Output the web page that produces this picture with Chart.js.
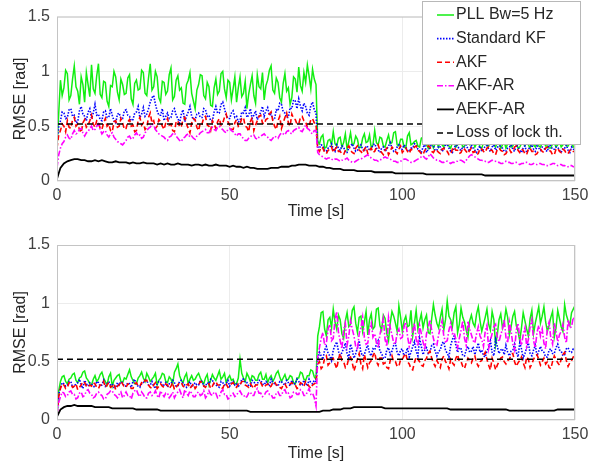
<!DOCTYPE html>
<html>
<head>
<meta charset="utf-8">
<script src="https://cdn.jsdelivr.net/npm/chart.js@4.4.1/dist/chart.umd.min.js"></script>
<style>
  html, body { margin: 0; padding: 0; background: #fff; }
  #wrap { position: relative; width: 600px; height: 466px; }
  #topChart { position: absolute; left: 0; top: 0; }
  #bottomChart { position: absolute; left: 0; top: 228px; }
</style>
</head>
<body>
<div id="wrap">
  <canvas id="topChart" width="600" height="228"></canvas>
  <canvas id="bottomChart" width="600" height="238"></canvas>
</div>
<script>
// RMSE, upper panel (noisy series every 0.5 s, AEKF-AR every 1 s)
const pllTop = [
  .30,.62,.92,.78,.85,1.01,.98,.74,.78,.93,1.05,.86,.82,.70,.95,.88,.72,.99,.88,.77,
  1.06,.84,.80,.96,1.07,.79,.76,.91,.90,.73,.68,.87,.86,1.00,.95,.81,.74,.93,.88,.79,
  .80,.94,.97,.75,.70,.89,.92,.83,.84,1.01,.99,.80,.78,.94,1.07,.83,.86,1.00,.95,.76,
  .72,.91,.90,.79,.82,.97,1.03,.74,.77,.92,.96,.83,.85,.71,.70,.88,.92,.99,.80,.73,
  .66,.83,.88,.97,.96,.78,.75,.90,.86,.69,.68,.85,.93,.79,.82,.98,1.00,.84,.76,.92,
  .90,.74,.84,.95,.72,.85,.95,.77,.80,.91,.66,.79,.88,.96,.78,.71,.97,.86,.84,.99,
  .74,.87,.92,1.01,1.05,.83,.80,.94,.90,.76,.72,.89,.98,.82,.85,.70,.76,.95,.93,.81,
  1.04,.87,.82,.99,.90,1.06,.96,.84,1.02,.93,.88,.36,.34,.40,.42,.30,.31,.37,.38,.33,
  .45,.34,.32,.39,.40,.31,.35,.43,.29,.36,.44,.33,.34,.41,.38,.30,.31,.39,.43,.35,
  .36,.42,.30,.33,.46,.35,.33,.40,.39,.32,.31,.37,.42,.34,.35,.44,.45,.33,.32,.38,
  .38,.31,.30,.41,.44,.33,.34,.36,.37,.32,.31,.39,.40,.34,.33,.30,.36,.35,.30,.34,
  .35,.31,.38,.33,.31,.36,.34,.32,.30,.35,.37,.31,.33,.38,.36,.31,.32,.35,.39,.33,
  .33,.36,.31,.34,.36,.31,.30,.35,.35,.32,.32,.37,.38,.33,.31,.35,.34,.30,.33,.36,
  .30,.34,.36,.31,.32,.37,.35,.30,.31,.34,.34,.32,.37,.33,.30,.35,.33,.31,.35,.32,
  .31,.35,.36,.32,.32,.30,.30,.34,.35,.31,.33,.36,.31,.33,.37,.32,.32,.35,.34,.31,
  .33
];
const kfTop = [
  .35,.50,.55,.63,.62,.57,.58,.65,.66,.59,.60,.53,.54,.64,.68,.61,.59,.55,.63,.66,
  .57,.62,.70,.60,.61,.56,.55,.63,.64,.58,.58,.66,.60,.55,.53,.61,.62,.57,.57,.64,
  .65,.60,.59,.55,.56,.62,.63,.68,.58,.61,.67,.59,.61,.66,.72,.76,.78,.70,.64,.60,
  .60,.66,.55,.59,.62,.57,.58,.64,.66,.60,.57,.53,.61,.65,.54,.59,.63,.68,.59,.56,
  .56,.61,.62,.58,.58,.66,.65,.59,.60,.55,.55,.63,.68,.62,.62,.70,.72,.66,.60,.57,
  .57,.62,.64,.58,.59,.54,.55,.63,.62,.67,.58,.60,.66,.57,.60,.64,.56,.59,.63,.68,
  .59,.64,.67,.60,.61,.56,.57,.65,.64,.71,.70,.63,.62,.58,.58,.67,.66,.74,.73,.66,
  .75,.68,.64,.71,.68,.62,.60,.69,.72,.65,.62,.31,.30,.33,.32,.28,.27,.30,.31,.34,
  .29,.27,.33,.30,.28,.32,.31,.26,.26,.30,.32,.34,.30,.27,.28,.31,.33,.29,.27,.32,
  .31,.28,.29,.33,.34,.30,.28,.26,.30,.31,.27,.29,.32,.35,.30,.27,.28,.31,.33,.29,
  .29,.33,.31,.28,.27,.30,.30,.34,.33,.29,.28,.26,.31,.33,.26,.29,.30,.34,.32,.28,
  .28,.32,.31,.27,.29,.33,.33,.30,.27,.26,.30,.33,.32,.29,.28,.31,.31,.33,.29,.27,
  .33,.30,.28,.26,.30,.32,.27,.29,.32,.34,.29,.27,.31,.33,.28,.30,.34,.31,.30,.27,
  .27,.30,.31,.33,.29,.27,.33,.31,.28,.26,.30,.32,.26,.29,.31,.33,.29,.27,.32,.30,
  .28,.31,.30,.28,.27,.33,.32,.29,.29,.31,.31,.28,.26,.30,.30,.33,.28,.26,.31,.29,
  .29
];
const akfTop = [
  .30,.42,.46,.52,.50,.45,.55,.49,.48,.56,.58,.50,.52,.47,.44,.53,.56,.49,.51,.55,
  .60,.52,.49,.55,.54,.48,.47,.53,.57,.50,.52,.46,.45,.54,.55,.49,.50,.57,.53,.47,
  .48,.54,.56,.50,.51,.45,.46,.55,.58,.51,.53,.47,.49,.58,.62,.53,.55,.48,.50,.56,
  .54,.50,.47,.53,.57,.51,.52,.46,.45,.54,.55,.49,.50,.56,.58,.52,.48,.44,.53,.57,
  .56,.49,.46,.53,.52,.58,.59,.51,.50,.46,.55,.52,.48,.54,.57,.51,.53,.58,.61,.54,
  .51,.47,.47,.53,.56,.50,.52,.57,.58,.50,.49,.45,.54,.58,.46,.51,.55,.59,.60,.53,
  .52,.56,.57,.61,.63,.55,.50,.47,.55,.59,.48,.53,.58,.62,.53,.50,.61,.57,.56,.52,
  .52,.58,.59,.55,.54,.49,.50,.56,.57,.53,.52,.29,.27,.31,.30,.26,.25,.28,.29,.31,
  .26,.29,.31,.27,.27,.25,.24,.28,.30,.32,.28,.26,.25,.30,.32,.28,.27,.25,.29,.31,
  .25,.28,.30,.26,.27,.31,.33,.28,.26,.24,.28,.30,.24,.27,.31,.29,.27,.25,.29,.32,
  .26,.28,.30,.27,.25,.29,.28,.31,.32,.28,.27,.25,.24,.28,.29,.32,.31,.27,.26,.29,
  .28,.26,.25,.29,.30,.27,.27,.24,.24,.29,.31,.28,.28,.25,.26,.30,.29,.27,.25,.28,
  .30,.26,.27,.24,.25,.30,.29,.27,.26,.30,.31,.28,.28,.25,.24,.29,.30,.28,.27,.24,
  .25,.28,.29,.26,.27,.31,.32,.28,.26,.29,.28,.25,.24,.29,.30,.27,.27,.24,.25,.28,
  .29,.27,.26,.30,.31,.28,.27,.24,.24,.29,.30,.27,.26,.29,.28,.25,.25,.28,.29,.27,
  .27
];
const akfArTop = [
  .12,.24,.30,.34,.36,.40,.42,.39,.38,.43,.46,.43,.44,.47,.48,.44,.41,.44,.45,.48,
  .50,.46,.47,.50,.52,.47,.43,.45,.46,.42,.40,.43,.44,.40,.38,.36,.35,.34,.33,.35,
  .37,.40,.41,.38,.39,.42,.44,.41,.42,.39,.40,.44,.46,.48,.49,.52,.51,.47,.45,.43,
  .42,.41,.40,.38,.37,.40,.41,.43,.44,.41,.39,.37,.36,.39,.40,.42,.43,.40,.41,.39,
  .38,.41,.42,.44,.45,.46,.47,.44,.44,.47,.49,.47,.46,.49,.50,.48,.47,.45,.44,.47,
  .48,.46,.45,.43,.41,.43,.43,.40,.39,.37,.37,.39,.40,.42,.42,.39,.38,.40,.41,.42,
  .43,.41,.40,.38,.37,.39,.41,.40,.39,.42,.44,.43,.42,.45,.46,.44,.43,.46,.47,.48,
  .49,.46,.45,.48,.51,.48,.47,.44,.43,.46,.46,.26,.24,.23,.22,.21,.20,.21,.21,.20,
  .19,.20,.20,.19,.18,.19,.19,.20,.21,.19,.18,.17,.17,.18,.19,.20,.20,.21,.22,.23,
  .24,.22,.21,.20,.19,.19,.18,.19,.20,.21,.22,.21,.21,.20,.19,.18,.18,.17,.17,.18,
  .19,.20,.20,.19,.18,.17,.17,.18,.19,.20,.21,.22,.23,.21,.20,.22,.25,.23,.21,.20,
  .19,.19,.18,.17,.17,.18,.18,.17,.16,.17,.17,.18,.18,.19,.19,.18,.17,.19,.21,.23,
  .24,.23,.22,.21,.20,.19,.19,.18,.18,.17,.17,.18,.19,.18,.18,.17,.17,.16,.16,.17,
  .18,.17,.17,.16,.16,.17,.17,.16,.15,.16,.16,.17,.17,.16,.15,.15,.16,.15,.15,.16,
  .16,.15,.15,.14,.14,.15,.15,.16,.16,.15,.14,.15,.15,.14,.14,.13,.13,.14,.14,.13,
  .13
];
const aekfArTop = [
  .02,.12,.16,.18,.19,.20,.20,.19,.19,.18,
  .18,.19,.18,.19,.18,.17,.17,.18,.17,.17,
  .17,.16,.17,.16,.16,.17,.16,.16,.16,.15,
  .16,.15,.16,.15,.15,.16,.15,.15,.15,.14,
  .15,.15,.14,.15,.14,.14,.15,.14,.14,.14,
  .13,.14,.13,.13,.12,.13,.12,.12,.11,.11,
  .11,.11,.12,.12,.12,.13,.13,.13,.14,.14,
  .15,.15,.15,.14,.14,.14,.13,.13,.12,.12,
  .11,.11,.11,.10,.10,.10,.10,.09,.09,.09,
  .09,.09,.08,.08,.08,.08,.08,.08,.07,.07,
  .07,.07,.07,.07,.07,.07,.07,.06,.06,.06,
  .06,.06,.06,.06,.06,.06,.06,.06,.06,.06,
  .06,.06,.06,.06,.05,.05,.05,.05,.05,.05,
  .05,.05,.05,.05,.05,.05,.05,.05,.05,.05,
  .05,.05,.05,.05,.05,.05,.05,.05,.05,.05,
  .05
];

// RMSE, lower panel
const pllBot = [
  .05,.25,.33,.37,.38,.33,.31,.35,.36,.39,.40,.34,.32,.36,.37,.41,.42,.36,.34,.31,
  .30,.35,.38,.33,.35,.39,.41,.36,.33,.30,.37,.40,.29,.34,.36,.38,.39,.33,.32,.36,
  .35,.39,.43,.37,.34,.31,.31,.36,.38,.41,.36,.33,.40,.37,.33,.35,.37,.40,.30,.34,
  .36,.40,.39,.33,.32,.37,.35,.31,.41,.44,.48,.38,.34,.32,.37,.40,.31,.35,.38,.34,
  .35,.38,.40,.36,.33,.31,.36,.39,.30,.34,.39,.36,.34,.38,.42,.35,.37,.40,.32,.36,
  .38,.34,.35,.31,.31,.36,.52,.40,.36,.33,.40,.37,.33,.38,.37,.34,.34,.39,.41,.35,
  .35,.39,.32,.36,.38,.33,.36,.40,.42,.37,.33,.36,.39,.34,.35,.38,.37,.32,.31,.36,
  .36,.41,.40,.35,.34,.38,.38,.43,.42,.37,.35,.72,.80,.92,.93,.78,.72,.86,.88,.79,
  .95,.84,.78,.90,.86,.74,.70,.85,.92,.80,.82,.94,.97,.83,.75,.88,.89,.76,.84,.93,
  .73,.86,.91,.78,.80,.95,.96,.81,.77,.90,.87,.74,.68,.83,.93,.89,.83,.76,.98,.88,
  .76,.85,.89,.80,.81,.94,.72,.83,.94,.78,.85,.91,.79,.86,.90,.75,.74,.87,.99,.90,
  .83,.79,.88,.95,.77,.86,1.02,.89,.86,.80,.92,.97,.75,.82,.96,.88,.84,.77,.71,.85,
  .90,.83,.80,.91,.97,.85,.76,.82,.88,.95,.82,.77,.93,.86,.64,.73,.86,.91,.79,.84,
  .95,.88,.73,.80,.89,.93,.81,.76,.68,.79,.92,.85,.78,.72,.87,.94,.74,.83,.90,.97,
  .83,.89,.97,.84,.76,.81,.88,.93,.71,.79,.94,.87,.80,.76,.99,.90,.85,.81,.92,.95,
  .98
];
const kfBot = [
  .05,.22,.28,.32,.31,.29,.30,.33,.33,.28,.29,.31,.32,.35,.30,.27,.34,.31,.29,.32,
  .31,.29,.28,.33,.32,.29,.30,.34,.29,.31,.33,.30,.31,.28,.28,.32,.30,.33,.32,.29,
  .29,.32,.31,.28,.33,.35,.30,.29,.28,.31,.32,.34,.34,.30,.30,.33,.29,.27,.31,.33,
  .33,.29,.30,.32,.28,.31,.31,.34,.32,.29,.29,.33,.34,.31,.30,.28,.31,.33,.28,.30,
  .32,.30,.30,.34,.33,.29,.29,.32,.31,.35,.34,.31,.30,.29,.28,.33,.32,.30,.31,.34,
  .29,.32,.33,.30,.31,.29,.30,.35,.35,.32,.32,.29,.29,.34,.33,.30,.31,.34,.34,.31,
  .30,.33,.32,.29,.35,.32,.31,.30,.29,.33,.33,.31,.30,.34,.32,.29,.34,.31,.31,.35,
  .33,.30,.30,.34,.32,.29,.35,.32,.31,.34,.33,.52,.58,.55,.52,.60,.63,.57,.55,.51,
  .60,.64,.67,.59,.54,.58,.61,.66,.57,.53,.65,.60,.53,.57,.62,.68,.58,.55,.56,.61,
  .64,.57,.55,.61,.60,.65,.68,.59,.57,.53,.53,.60,.62,.56,.59,.64,.66,.58,.55,.60,
  .61,.55,.57,.62,.54,.58,.63,.67,.59,.55,.70,.63,.56,.60,.62,.57,.58,.64,.65,.59,
  .55,.59,.60,.66,.67,.60,.57,.54,.64,.69,.72,.64,.58,.62,.61,.55,.55,.60,.63,.58,
  .59,.63,.56,.61,.66,.58,.60,.55,.54,.59,.62,.68,.58,.55,.69,.63,.57,.60,.61,.56,
  .64,.58,.55,.59,.60,.65,.58,.54,.66,.61,.53,.57,.62,.66,.57,.55,.60,.64,.55,.59,
  .63,.59,.58,.54,.54,.60,.61,.57,.57,.62,.65,.60,.59,.55,.56,.61,.62,.58,.58,.61,
  .60
];
const akfBot = [
  .05,.20,.27,.31,.30,.27,.28,.32,.31,.28,.29,.31,.26,.28,.30,.33,.32,.29,.28,.30,
  .29,.32,.31,.28,.27,.30,.30,.33,.28,.30,.32,.28,.29,.31,.26,.29,.30,.33,.31,.28,
  .28,.31,.30,.27,.27,.31,.32,.29,.29,.32,.31,.34,.34,.30,.28,.27,.30,.32,.27,.29,
  .31,.29,.28,.31,.30,.27,.29,.32,.26,.28,.30,.32,.32,.29,.28,.30,.31,.27,.29,.31,
  .27,.29,.30,.33,.32,.29,.28,.31,.31,.27,.29,.32,.33,.30,.30,.28,.27,.31,.31,.28,
  .29,.31,.32,.29,.28,.31,.30,.33,.33,.30,.29,.28,.31,.29,.27,.30,.30,.32,.32,.29,
  .28,.30,.31,.28,.29,.32,.33,.30,.30,.28,.27,.30,.31,.28,.29,.31,.32,.30,.30,.27,
  .28,.32,.31,.29,.33,.31,.29,.27,.30,.31,.32,.48,.50,.44,.46,.53,.55,.47,.49,.52,
  .53,.48,.44,.52,.57,.51,.50,.45,.47,.53,.54,.49,.42,.47,.52,.57,.48,.44,.56,.51,
  .45,.49,.51,.55,.58,.50,.47,.53,.53,.48,.49,.45,.44,.51,.55,.50,.50,.46,.46,.52,
  .52,.55,.57,.50,.48,.44,.43,.49,.54,.52,.50,.47,.46,.51,.53,.57,.59,.53,.49,.46,
  .51,.48,.45,.52,.55,.50,.48,.44,.52,.49,.47,.53,.56,.50,.50,.46,.44,.49,.53,.51,
  .49,.53,.55,.49,.46,.50,.51,.55,.58,.52,.47,.43,.53,.49,.43,.47,.50,.53,.54,.50,
  .48,.51,.52,.56,.57,.50,.46,.49,.51,.54,.49,.45,.54,.52,.45,.48,.52,.55,.56,.52,
  .47,.50,.53,.48,.50,.45,.44,.50,.55,.52,.49,.47,.52,.56,.58,.51,.46,.49,.51,.54,
  .53
];
const akfArBot = [
  .05,.15,.20,.24,.23,.20,.21,.24,.25,.22,.22,.18,.19,.23,.24,.20,.21,.25,.26,.23,
  .22,.19,.20,.23,.24,.22,.21,.18,.18,.22,.23,.25,.25,.22,.21,.19,.22,.24,.19,.21,
  .24,.21,.21,.18,.23,.25,.26,.22,.20,.24,.22,.19,.19,.23,.24,.21,.22,.25,.21,.19,
  .25,.22,.20,.23,.23,.19,.21,.24,.19,.22,.24,.26,.22,.19,.26,.23,.21,.25,.23,.20,
  .20,.23,.24,.21,.22,.25,.19,.21,.25,.22,.21,.24,.23,.19,.20,.24,.26,.22,.22,.18,
  .19,.22,.23,.20,.21,.24,.25,.22,.22,.19,.20,.23,.24,.21,.21,.25,.27,.23,.23,.20,
  .21,.24,.25,.22,.22,.19,.19,.23,.24,.21,.21,.25,.26,.22,.23,.19,.20,.24,.24,.22,
  .22,.26,.25,.21,.21,.24,.27,.22,.23,.19,.12,.55,.62,.70,.75,.64,.66,.78,.82,.68,
  .70,.86,.93,.75,.68,.61,.77,.83,.64,.72,.85,.78,.72,.63,.60,.74,.79,.88,.71,.65,
  .66,.78,.83,.71,.74,.66,.62,.73,.80,.87,.69,.63,.88,.79,.73,.66,.65,.75,.78,.70,
  .71,.80,.84,.72,.63,.68,.76,.83,.69,.63,.81,.74,.67,.60,.74,.79,.86,.77,.70,.64,
  .64,.73,.79,.85,.72,.67,.68,.77,.83,.74,.75,.69,.62,.70,.77,.85,.70,.64,.85,.78,
  .73,.68,.66,.74,.80,.72,.69,.63,.76,.81,.61,.68,.74,.80,.82,.71,.67,.73,.78,.86,
  .71,.66,.84,.76,.65,.60,.77,.83,.70,.64,.73,.79,.63,.69,.80,.86,.68,.62,.75,.81,
  .72,.78,.66,.61,.79,.84,.70,.65,.83,.76,.67,.73,.76,.82,.71,.66,.86,.79,.80,.88,
  .85
];
const aekfArBot = [
  .03,.09,.11,.12,.12,.13,.12,.12,.12,.12,
  .12,.11,.11,.11,.11,.11,.10,.10,.10,.10,
  .10,.10,.10,.09,.09,.09,.09,.09,.09,.09,
  .08,.08,.08,.08,.08,.08,.08,.08,.08,.08,
  .08,.08,.08,.08,.08,.08,.08,.08,.08,.08,
  .08,.08,.08,.08,.08,.08,.07,.07,.07,.07,
  .07,.07,.07,.07,.07,.07,.07,.07,.07,.07,
  .07,.07,.07,.07,.07,.07,.07,.08,.08,.08,
  .09,.09,.09,.10,.10,.10,.11,.11,.11,.11,
  .11,.11,.11,.11,.11,.10,.10,.10,.10,.10,
  .10,.10,.10,.10,.10,.10,.10,.10,.10,.10,
  .10,.10,.10,.10,.09,.09,.09,.09,.09,.09,
  .09,.09,.09,.09,.09,.09,.09,.09,.09,.09,
  .09,.08,.08,.08,.08,.08,.08,.08,.08,.08,
  .08,.08,.08,.08,.08,.09,.09,.09,.09,.09,
  .09
];

const lockThreshold = 0.52;
const timeRange = [0, 150];
const seriesNames = ['PLL Bw=5 Hz', 'Standard KF', 'AKF', 'AKF-AR', 'AEKF-AR', 'Loss of lock th.'];

const FONT = "'Liberation Sans', Arial, sans-serif";

// samples are evenly spaced over the time range
function pts(values) {
  const step = (timeRange[1] - timeRange[0]) / (values.length - 1);
  return values.map((v, i) => ({ x: timeRange[0] + i * step, y: v }));
}

// line styles: colour, width, dash, draw order (higher = further back)
const styles = [
  { color: '#12ee12', width: 1.5, dash: [], order: 6 },
  { color: '#0000ff', width: 1.6, dash: [1.5, 1.5], order: 5 },
  { color: '#ff0000', width: 1.6, dash: [5, 3], order: 4 },
  { color: '#ff00ff', width: 1.6, dash: [6, 2, 1.5, 2], order: 3 },
  { color: '#000000', width: 1.8, dash: [], order: 2 },
  { color: '#000000', width: 1.5, dash: [6, 4], order: 1 }
];

function buildDatasets(rows) {
  const all = rows.concat([[{ x: timeRange[0], y: lockThreshold }, { x: timeRange[1], y: lockThreshold }]]);
  return all.map((data, i) => ({
    label: seriesNames[i],
    data: data,
    borderColor: styles[i].color,
    borderWidth: styles[i].width,
    borderDash: styles[i].dash,
    order: styles[i].order,
    pointRadius: 0,
    tension: 0,
    fill: false
  }));
}

// light box around the plot area
const frame = {
  id: 'frame',
  afterDraw(chart) {
    const { ctx, chartArea: a } = chart;
    ctx.save();
    ctx.strokeStyle = '#c4c4c4';
    ctx.lineWidth = 1;
    ctx.setLineDash([]);
    ctx.strokeRect(a.left + 0.5, a.top + 0.5, a.width - 1, a.height - 1);
    ctx.restore();
  }
};

// boxed legend in the upper right corner (top panel only)
const boxLegend = {
  id: 'boxLegend',
  afterDraw(chart) {
    const ctx = chart.ctx;
    const x0 = 422, y0 = 1, w = 158, h = 143;
    ctx.save();
    ctx.fillStyle = '#ffffff';
    ctx.fillRect(x0, y0, w, h);
    ctx.strokeStyle = '#b8b8b8';
    ctx.lineWidth = 1;
    ctx.strokeRect(x0 + 0.5, y0 + 0.5, w, h);
    ctx.font = '16px ' + FONT;
    ctx.textBaseline = 'middle';
    ctx.fillStyle = '#262626';
    chart.data.datasets.forEach((ds, i) => {
      const y = 15 + i * 23.6;
      ctx.beginPath();
      ctx.strokeStyle = ds.borderColor;
      ctx.lineWidth = ds.borderWidth;
      ctx.setLineDash(ds.borderDash);
      ctx.moveTo(437, y);
      ctx.lineTo(454, y);
      ctx.stroke();
      ctx.setLineDash([]);
      ctx.fillText(ds.label, 456, y);
    });
    ctx.restore();
  }
};

function makeOptions(padTop, xHeight, titlePadBottom) {
  return {
    responsive: false,
    animation: false,
    layout: { padding: { top: padTop, right: 25, left: 0, bottom: 0 } },
    plugins: { legend: { display: false }, tooltip: { enabled: false } },
    scales: {
      x: {
        type: 'linear',
        min: timeRange[0],
        max: timeRange[1],
        afterFit(scale) { scale.height = xHeight; },
        ticks: { stepSize: 50, padding: 5, color: '#404040', font: { family: FONT, size: 16 } },
        grid: { color: '#ececec', drawTicks: false },
        border: { display: false },
        title: {
          display: true,
          text: 'Time [s]',
          color: '#262626',
          font: { family: FONT, size: 16 },
          padding: { top: 0, bottom: titlePadBottom }
        }
      },
      y: {
        min: 0,
        max: 1.5,
        afterFit(scale) { scale.width = 57; },
        ticks: {
          stepSize: 0.5,
          padding: 7,
          color: '#404040',
          font: { family: FONT, size: 16 },
          callback: (v) => String(v)
        },
        grid: { color: '#ececec', drawTicks: false },
        border: { display: false },
        title: {
          display: true,
          text: 'RMSE [rad]',
          color: '#262626',
          font: { family: FONT, size: 16 },
          padding: { top: 11, bottom: 0 }
        }
      }
    }
  };
}

new Chart(document.getElementById('topChart'), {
  type: 'line',
  data: { datasets: buildDatasets([pts(pllTop), pts(kfTop), pts(akfTop), pts(akfArTop), pts(aekfArTop)]) },
  options: makeOptions(13, 47, 7),
  plugins: [frame, boxLegend]
});

new Chart(document.getElementById('bottomChart'), {
  type: 'line',
  data: { datasets: buildDatasets([pts(pllBot), pts(kfBot), pts(akfBot), pts(akfArBot), pts(aekfArBot)]) },
  options: makeOptions(17, 46, 3),
  plugins: [frame]
});
</script>
</body>
</html>
